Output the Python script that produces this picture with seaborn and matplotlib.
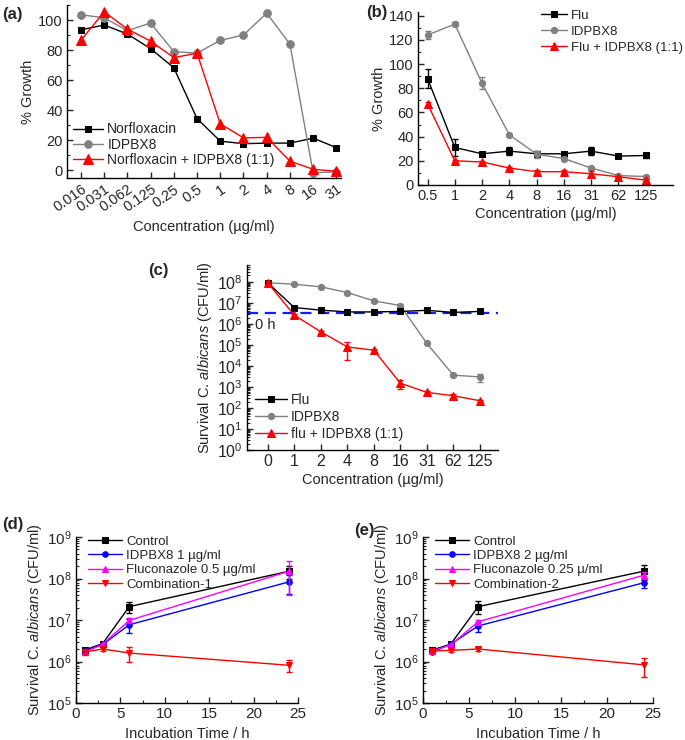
import numpy as np
import matplotlib
matplotlib.use("Agg")
import matplotlib.pyplot as plt
import seaborn as sns
from matplotlib.ticker import MultipleLocator, AutoMinorLocator, LogLocator, NullFormatter

# ---- panel (a): norfloxacin checkerboard ----
conc_a = ["0.016", "0.031", "0.062", "0.125", "0.25", "0.5", "1", "2", "4", "8", "16", "31"]
norflox_a = [93.5, 96.7, 90.7, 81, 68.3, 34.5, 19.5, 17.8, 18.2, 18.2, 21.5, 15.2]
idpbx8_a = [103.5, 101.5, 93, 98, 79, 78, 86.5, 90, 104.6, 84, -1.5, -1]
combo_a = [86.5, 105.5, 94, 86, 75, 78, 31, 21.7, 22, 6.2, 0.8, -0.5]

# ---- panel (b): fluconazole ----
conc_b = ["0.5", "1", "2", "4", "8", "16", "31", "62", "125"]
flu_b = [88, 31, 25.8, 28, 25.8, 25.8, 28, 23.9, 24.4]
flu_b_err = [8, 7, 1, 3, 2, 1.5, 3, 1, 2]
idpbx8_b = [124, 133, 84, 41.5, 25.5, 21.8, 14, 7.8, 7]
idpbx8_b_err = [3, 1.5, 5, 1, 3, 1, 1, 1, 1]
combo_b = [67, 20, 19, 14, 11, 11, 9.3, 6.8, 4]
combo_b_err = [2, 1, 1, 1, 1, 1, 2, 1, 1]

# ---- panel (c): survival vs concentration ----
conc_c = ["0", "1", "2", "4", "8", "16", "31", "62", "125"]
flu_c = [9e7, 6e6, 4.5e6, 3.7e6, 3.7e6, 3.9e6, 4.4e6, 3.5e6, 3.9e6]
flu_c_err = [1e7, 5e5, 4e5, 4e5, 3e5, 3e5, 5e5, 3e5, 4e5]
idpbx8_c = [9e7, 7.7e7, 5.8e7, 3.1e7, 1.25e7, 7.4e6, 1.17e5, 3.6e3, 3e3]
idpbx8_c_err = [5e6, 5e6, 5e6, 3e6, 1e6, 1.5e6, 1e4, 4e2, 1.2e3]
combo_c = [9e7, 2.6e6, 4.2e5, 8e4, 5.6e4, 1.5e3, 5.5e2, 3.8e2, 2.2e2]
combo_c_err = [2.5e7, 4e5, 5e4, 6e4, 1e4, 7e2, 1.2e2, 1e2, 3e1]
zero_h = 3.3e6

# ---- panels (d) and (e): time kill ----
time_h = [1, 3, 6, 24]
control_d = [1.9e6, 2.7e6, 2.1e7, 1.5e8]
control_d_err = [2e5, 2e5, 6e6, 5e7]
idpbx8_d = [1.8e6, 2.55e6, 7.7e6, 8.3e7]
idpbx8_d_err = [2e5, 2e5, 2.8e6, 4e7]
fluc_d = [1.7e6, 2.6e6, 9.8e6, 1.5e8]
fluc_d_err = [2e5, 2e5, 1.5e6, 1.1e8]
comb_d = [1.7e6, 2.0e6, 1.6e6, 8.1e5]
comb_d_err = [3e5, 2e5, 6e5, 2.5e5]

control_e = [1.9e6, 2.6e6, 2.1e7, 1.5e8]
control_e_err = [1e5, 2e5, 7e6, 6e7]
idpbx8_e = [1.7e6, 2.6e6, 7.2e6, 7.9e7]
idpbx8_e_err = [1e5, 2e5, 2e6, 2e7]
fluc_e = [1.8e6, 2.5e6, 9.1e6, 1.2e8]
fluc_e_err = [1e5, 2e5, 1e6, 2e7]
comb_e = [1.8e6, 1.85e6, 2.0e6, 8.3e5]
comb_e_err = [1e5, 2e5, 2e5, 4e5]

sns.set_style("ticks")
plt.rcParams["font.family"] = ["Liberation Sans", "DejaVu Sans"]
plt.rcParams["mathtext.fontset"] = "custom"
plt.rcParams["mathtext.rm"] = "Liberation Sans"
plt.rcParams["mathtext.it"] = "Liberation Sans:italic"
plt.rcParams["font.size"] = 10

W, H = 685, 740
fig = plt.figure(figsize=(W / 100, H / 100), dpi=100)


def px_axes(l, t, r, b):
    return fig.add_axes([l / W, 1 - b / H, (r - l) / W, (b - t) / H])


def style(ax, labelsize=10.5):
    sns.despine(ax=ax)
    for s in ["left", "bottom"]:
        ax.spines[s].set_linewidth(1)
        ax.spines[s].set_color("black")
    ax.tick_params(which="major", direction="in", length=4, width=1, labelsize=labelsize, pad=3)
    ax.tick_params(which="minor", direction="in", length=2, width=0.8)


def draw(ax, x, y, err, color, marker, label, ms=5, lw=1):
    sns.lineplot(x=x, y=y, ax=ax, color=color, marker=marker, markersize=ms,
                 markeredgecolor=color, linewidth=lw, label=label,
                 estimator=None, sort=False)
    if err is not None:
        ax.errorbar(x, y, yerr=err, fmt="none", ecolor=color, elinewidth=1,
                    capsize=2.5, capthick=1)


# (a)
ax = px_axes(67, 5, 341, 178)
xa = np.arange(len(conc_a))
draw(ax, xa, norflox_a, None, "black", "s", "Norfloxacin", ms=5)
draw(ax, xa, idpbx8_a, None, "#808080", "o", "IDPBX8", ms=5.5)
draw(ax, xa, combo_a, None, "red", "^", "Norfloxacin + IDPBX8 (1:1)", ms=6.5)
ax.set_xlim(-0.6, 11.2)
ax.set_xticks(xa)
ax.set_xticklabels(conc_a, rotation=35, ha="right", rotation_mode="anchor")
ax.yaxis.set_major_locator(MultipleLocator(20))
ax.yaxis.set_minor_locator(MultipleLocator(10))
ax.set_ylim(-5, 110)
ax.set_xlabel("Concentration (\u00b5g/ml)", fontsize=10.5, labelpad=4)
ax.set_ylabel("% Growth", fontsize=10.5, labelpad=2)
style(ax)
ax.legend(loc="lower left", bbox_to_anchor=(0.0, 0.03), frameon=False, fontsize=10,
          handlelength=2.2, labelspacing=0.1, borderaxespad=0, handletextpad=0.3)

# (b)
ax = px_axes(418, 12, 673, 185)
xb = np.arange(len(conc_b))
draw(ax, xb, flu_b, flu_b_err, "black", "s", "Flu", ms=5)
draw(ax, xb, idpbx8_b, idpbx8_b_err, "#808080", "o", "IDPBX8", ms=4.5)
draw(ax, xb, combo_b, combo_b_err, "red", "^", "Flu + IDPBX8 (1:1)", ms=5.5)
ax.set_xlim(-0.35, 9.0)
ax.set_xticks(xb)
ax.set_xticklabels(conc_b)
ax.yaxis.set_major_locator(MultipleLocator(20))
ax.yaxis.set_minor_locator(MultipleLocator(10))
ax.set_ylim(0, 143)
ax.set_xlabel("Concentration (\u00b5g/ml)", fontsize=10.5, labelpad=3)
ax.set_ylabel("% Growth", fontsize=10.5, labelpad=2)
style(ax)
ax.legend(loc="upper left", bbox_to_anchor=(0.46, 1.045), frameon=False, fontsize=9.5,
          handlelength=2.0, labelspacing=0.3, borderaxespad=0, handletextpad=0.3)

# (c)
ax = px_axes(247, 265, 498, 450)
ax.set_yscale("log")
xc = np.arange(len(conc_c))
ax.axhline(zero_h, color="#1a1aff", linestyle=(0, (5, 3)), linewidth=1.6, zorder=1)
draw(ax, xc, idpbx8_c, idpbx8_c_err, "#808080", "o", "IDPBX8", ms=4.5)
draw(ax, xc, flu_c, flu_c_err, "black", "s", "Flu", ms=5)
draw(ax, xc, combo_c, combo_c_err, "red", "^", "flu + IDPBX8 (1:1)", ms=5.5)
ax.text(-0.48, 8.5e5, "0 h", fontsize=10.5, va="center", ha="left")
ax.set_xlim(-0.78, 8.68)
ax.set_ylim(1, 10 ** 8.8)
ax.set_xticks(xc)
ax.set_xticklabels(conc_c)
ax.set_yticks([10.0 ** i for i in range(9)])
ax.yaxis.set_minor_locator(LogLocator(base=10, subs=np.arange(2, 10), numticks=20))
ax.yaxis.set_minor_formatter(NullFormatter())
ax.set_xlabel("Concentration (\u00b5g/ml)", fontsize=10.5, labelpad=3)
ax.set_ylabel(r"Survival C. $\mathit{albicans}$ (CFU/ml)", fontsize=10.5, labelpad=2)
style(ax, labelsize=11.5)
h, l = ax.get_legend_handles_labels()
order = [l.index("Flu"), l.index("IDPBX8"), l.index("flu + IDPBX8 (1:1)")]
ax.legend([h[i] for i in order], [l[i] for i in order], loc="lower left",
          bbox_to_anchor=(0.01, 0.02), frameon=False, fontsize=10, handlelength=2.3,
          labelspacing=0.2, borderaxespad=0, handletextpad=0.3)


def time_panel(box, ctrl, ctrl_err, idp, idp_err, flc, flc_err, cmb, cmb_err, labels):
    ax = px_axes(*box)
    ax.set_yscale("log")
    draw(ax, time_h, ctrl, ctrl_err, "black", "s", labels[0], ms=4)
    draw(ax, time_h, idp, idp_err, "blue", "o", labels[1], ms=4)
    draw(ax, time_h, flc, flc_err, "magenta", "^", labels[2], ms=4.5)
    draw(ax, time_h, cmb, cmb_err, "red", "v", labels[3], ms=4.5)
    ax.set_xlim(0, 25)
    ax.set_ylim(1e5, 1e9)
    ax.xaxis.set_major_locator(MultipleLocator(5))
    ax.xaxis.set_minor_locator(AutoMinorLocator(2))
    ax.set_yticks([10.0 ** i for i in range(5, 10)])
    ax.yaxis.set_minor_locator(LogLocator(base=10, subs=np.arange(2, 10), numticks=20))
    ax.yaxis.set_minor_formatter(NullFormatter())
    ax.set_xlabel("Incubation Time / h", fontsize=10.5, labelpad=4)
    ax.set_ylabel(r"Survival C. $\mathit{albicans}$ (CFU/ml)", fontsize=10.5, labelpad=2)
    style(ax, labelsize=11)
    ax.legend(loc="upper left", bbox_to_anchor=(0.03, 1.04), frameon=False, fontsize=9.5,
              handlelength=2.6, labelspacing=0.15, borderaxespad=0, handletextpad=0.3)
    return ax


time_panel((76, 537, 298, 703), control_d, control_d_err, idpbx8_d, idpbx8_d_err,
           fluc_d, fluc_d_err, comb_d, comb_d_err,
           ["Control", "IDPBX8 1 \u00b5g/ml", "Fluconazole 0.5 \u00b5g/ml", "Combination-1"])
time_panel((423, 537, 653, 703), control_e, control_e_err, idpbx8_e, idpbx8_e_err,
           fluc_e, fluc_e_err, comb_e, comb_e_err,
           ["Control", "IDPBX8 2 \u00b5g/ml", "Fluconazole 0.25 \u00b5/ml", "Combination-2"])

# panel letters
for txt, x, y in [("(a)", 2, 14), ("(b)", 366, 12), ("(c)", 148, 270),
                  ("(d)", 2, 524), ("(e)", 354, 530)]:
    fig.text(x / W, 1 - y / H, txt, fontsize=12, fontweight="bold", va="center", ha="left")

fig.savefig("out.png", dpi=100)
